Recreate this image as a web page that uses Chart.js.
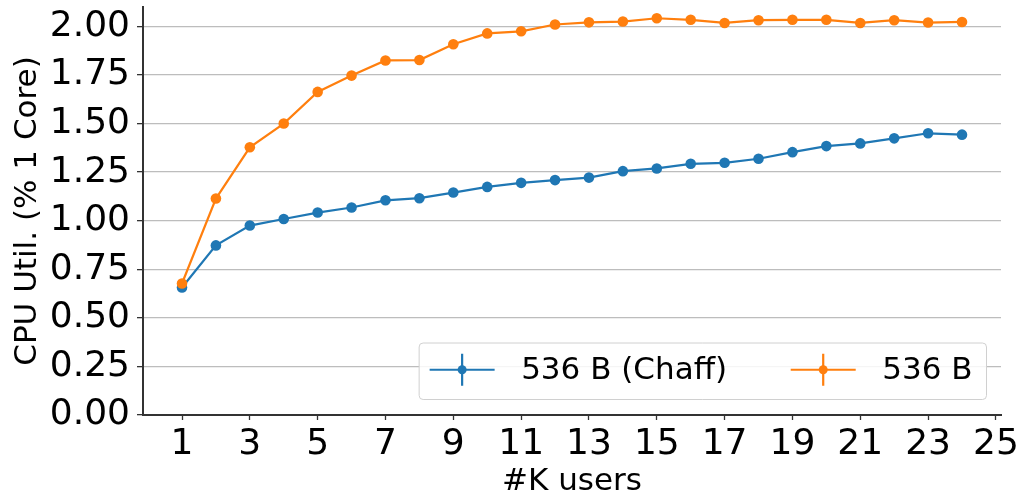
<!DOCTYPE html>
<html>
<head>
<meta charset="utf-8">
<title>CPU utilisation vs. users</title>
<script src="https://cdn.jsdelivr.net/npm/chart.js@4.4.1/dist/chart.umd.min.js"></script>
<style>
  html, body { margin: 0; padding: 0; background: #ffffff; }
  #wrap { width: 1022px; height: 495px; }
</style>
</head>
<body>
<div id="wrap"><canvas id="cpu" width="1022" height="495"></canvas></div>
<script>
// Thousands of users on the x axis
const users = [1, 2, 3, 4, 5, 6, 7, 8, 9, 10, 11, 12, 13, 14, 15, 16, 17, 18, 19, 20, 21, 22, 23, 24];

// CPU utilisation, in units of one core
const chaffCpu = [0.656, 0.873, 0.975, 1.009, 1.042, 1.068, 1.105, 1.116, 1.145, 1.174, 1.195, 1.209,
                  1.222, 1.255, 1.269, 1.293, 1.298, 1.319, 1.353, 1.384, 1.398, 1.424, 1.450, 1.443];
const plainCpu = [0.677, 1.114, 1.378, 1.500, 1.663, 1.747, 1.825, 1.827, 1.908, 1.964, 1.975, 2.010,
                  2.021, 2.025, 2.042, 2.034, 2.018, 2.032, 2.034, 2.034, 2.018, 2.032, 2.020, 2.023];

const seriesLabels = ['536 B (Chaff)', '536 B'];
const seriesColors = ['#1f77b4', '#ff7f0e'];

// Axis tick positions
const xTicks = [1, 3, 5, 7, 9, 11, 13, 15, 17, 19, 21, 23, 25];
const yTicks = [0, 0.25, 0.5, 0.75, 1.0, 1.25, 1.5, 1.75, 2.0];

const FONT = "'DejaVu Sans', 'Liberation Sans', sans-serif";
const AXIS_DARK = '#333333';

const toPoints = (ys) => users.map((u, i) => ({ x: u, y: ys[i] }));

// Legend drawn like an errorbar legend: line, dot and a short vertical bar
const errorbarLegend = {
  id: 'errorbarLegend',
  afterDraw(chart) {
    const { ctx, chartArea } = chart;
    const fontSize = 31;
    const handle = 65, handleGap = 26.5, colGap = 63.6, padL = 11, padR = 13.5;
    ctx.save();
    ctx.font = fontSize + 'px ' + FONT;
    const widths = seriesLabels.map(t => ctx.measureText(t).width);
    let boxW = padL + padR;
    widths.forEach((w, i) => { boxW += handle + handleGap + w + (i < widths.length - 1 ? colGap : 0); });
    const boxH = 56.5;
    const right = chartArea.right - 15;
    const bottom = chartArea.bottom - 16;
    const left = right - boxW, top = bottom - boxH;

    ctx.beginPath();
    ctx.roundRect(left + 0.5, top + 0.5, boxW, boxH, 4);
    ctx.fillStyle = 'rgba(255,255,255,0.85)';
    ctx.fill();
    ctx.lineWidth = 1;
    ctx.strokeStyle = '#d0d0d0';
    ctx.stroke();

    const cy = top + boxH / 2 - 1;
    let x = left + padL;
    seriesLabels.forEach((label, i) => {
      const c = seriesColors[i];
      ctx.strokeStyle = c;
      ctx.fillStyle = c;
      ctx.lineWidth = 2.2;
      ctx.beginPath();
      ctx.moveTo(x, cy); ctx.lineTo(x + handle, cy);
      ctx.moveTo(x + handle / 2, cy - 16); ctx.lineTo(x + handle / 2, cy + 16);
      ctx.stroke();
      ctx.beginPath();
      ctx.arc(x + handle / 2, cy, 4.5, 0, Math.PI * 2);
      ctx.fill();
      ctx.fillStyle = '#000000';
      ctx.textAlign = 'left';
      ctx.textBaseline = 'middle';
      ctx.fillText(label, x + handle + handleGap, cy + 1);
      x += handle + handleGap + widths[i] + colGap;
    });
    ctx.restore();
  }
};

new Chart(document.getElementById('cpu'), {
  type: 'line',
  data: {
    datasets: [
      {
        label: seriesLabels[0],
        data: toPoints(chaffCpu),
        borderColor: seriesColors[0],
        backgroundColor: seriesColors[0],
        borderWidth: 2.2,
        pointRadius: 5.3,
        pointBorderWidth: 0,
        pointHoverRadius: 5.3,
        tension: 0,
        order: 1
      },
      {
        label: seriesLabels[1],
        data: toPoints(plainCpu),
        borderColor: seriesColors[1],
        backgroundColor: seriesColors[1],
        borderWidth: 2.2,
        pointRadius: 5.3,
        pointBorderWidth: 0,
        pointHoverRadius: 5.3,
        tension: 0,
        order: 0
      }
    ]
  },
  options: {
    responsive: false,
    devicePixelRatio: 1,
    animation: false,
    events: [],
    layout: { padding: { top: 7, right: 21, left: 0, bottom: 0 } },
    plugins: {
      legend: { display: false },
      tooltip: { enabled: false }
    },
    scales: {
      x: {
        type: 'linear',
        min: -0.15,
        max: 25.15,
        afterBuildTicks: (scale) => { scale.ticks = xTicks.map(v => ({ value: v })); },
        afterFit: (scale) => {
          scale.height = 80;
          scale.paddingLeft = 0;
          scale.paddingRight = 0;
        },
        border: { display: true, color: AXIS_DARK, width: 2 },
        grid: {
          drawOnChartArea: false,
          drawTicks: true,
          tickLength: 5,
          tickColor: AXIS_DARK,
          tickWidth: 1.3
        },
        ticks: {
          autoSkip: false,
          maxRotation: 0,
          padding: 3,
          color: '#000000',
          font: { family: FONT, size: 36 },
          callback: (v) => String(v)
        },
        title: {
          display: true,
          text: '#K users',
          color: '#000000',
          font: { family: FONT, size: 31 },
          padding: { top: 0, bottom: -6 }
        }
      },
      y: {
        min: 0,
        max: 2.1,
        afterBuildTicks: (scale) => { scale.ticks = yTicks.map(v => ({ value: v })); },
        afterFit: (scale) => {
          scale.width = 143;
          scale.paddingTop = 0;
          scale.paddingBottom = 0;
        },
        border: { display: true, color: AXIS_DARK, width: 2 },
        grid: {
          color: '#bdbdbd',
          lineWidth: 1.3,
          drawTicks: true,
          tickLength: 6,
          tickColor: AXIS_DARK,
          tickWidth: 1.3
        },
        ticks: {
          padding: 7,
          color: '#000000',
          font: { family: FONT, size: 36 },
          callback: (v) => Number(v).toFixed(2)
        },
        title: {
          display: true,
          text: 'CPU Util. (% 1 Core)',
          color: '#000000',
          font: { family: FONT, size: 31 },
          padding: { top: 9, bottom: 0 }
        }
      }
    }
  },
  plugins: [errorbarLegend]
});
</script>
</body>
</html>
